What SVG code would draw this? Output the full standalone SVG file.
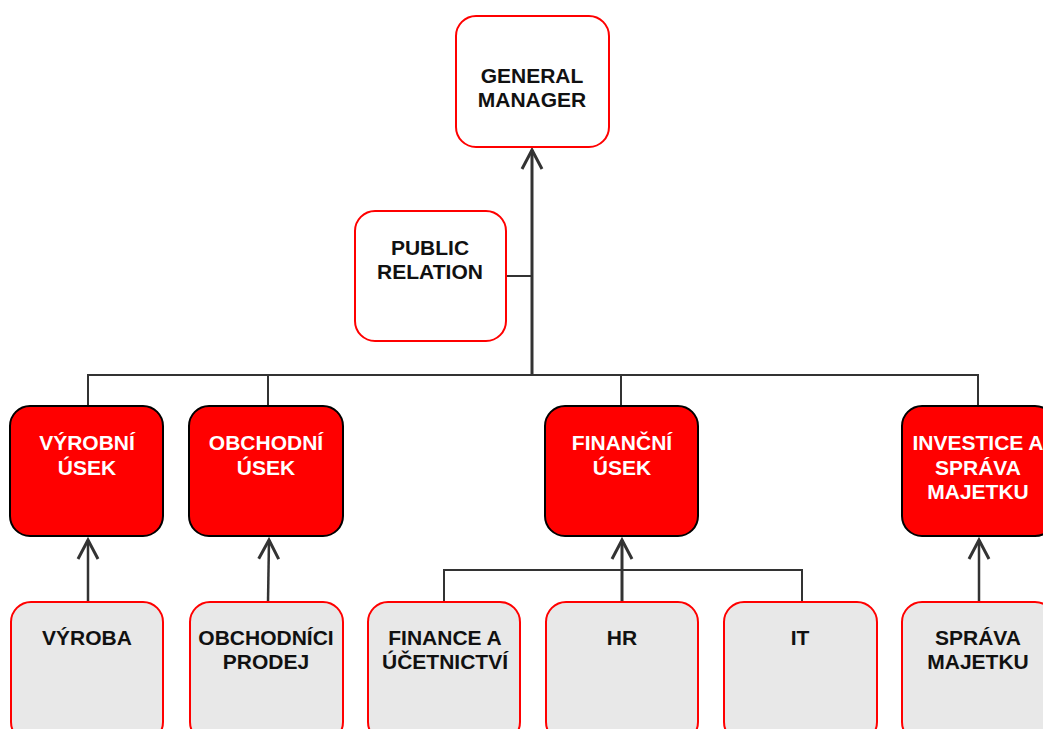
<svg xmlns="http://www.w3.org/2000/svg" width="1043" height="729" viewBox="0 0 1043 729">
<style>
.top{fill:#ffffff;stroke:#ff0000;stroke-width:2}
.dept{fill:#ff0000;stroke:#000000;stroke-width:2}
.sub{fill:#e8e8e8;stroke:#ff0000;stroke-width:2}
text{font-family:"Liberation Sans",Arial,sans-serif;font-weight:bold;font-size:21px;text-anchor:middle}
.dk{fill:#111111}
.wt{fill:#ffffff}
.ln{fill:none;stroke:#333333;stroke-width:2}
.ar{fill:none;stroke:#333333;stroke-width:2.5}
.thick{fill:none;stroke:#333333;stroke-width:3}
</style>
<defs>
<marker id="open" markerUnits="userSpaceOnUse" markerWidth="40" markerHeight="40" refX="0" refY="0" orient="auto" overflow="visible">
<path d="M -19 -10 L 0 0 L -19 10" fill="none" stroke="#333333" stroke-width="3"/>
</marker>
</defs>
<rect width="1043" height="729" fill="#ffffff"/>
<g id="connectors">
<path class="thick" d="M 532 376 L 532 150" marker-end="url(#open)"/>
<path class="ln" d="M 506 276 L 532 276"/>
<path class="ln" d="M 88 406 L 88 375 L 978 375 L 978 406"/>
<path class="ln" d="M 268 375 L 268 406"/>
<path class="ln" d="M 621 375 L 621 406"/>
<path class="ar" d="M 88 602 L 88 540" marker-end="url(#open)"/>
<path class="ar" d="M 268 602 L 269 540" marker-end="url(#open)"/>
<path class="ln" d="M 444 602 L 444 570 L 802 570 L 802 602"/>
<path class="thick" d="M 622 602 L 622 540" marker-end="url(#open)"/>
<path class="ar" d="M 979 602 L 979 540" marker-end="url(#open)"/>
</g>
<g id="general-manager">
<rect class="top" x="456" y="16" width="153" height="131" rx="20"/>
<text class="dk" x="532" y="83">GENERAL</text>
<text class="dk" x="532" y="107">MANAGER</text>
</g>
<g id="public-relation">
<rect class="top" x="355" y="211" width="151" height="130" rx="20"/>
<text class="dk" x="430" y="255">PUBLIC</text>
<text class="dk" x="430" y="279">RELATION</text>
</g>
<g id="vyrobni-usek">
<rect class="dept" x="10" y="406" width="153" height="130" rx="20"/>
<text class="wt" x="87" y="450">VÝROBNÍ</text>
<text class="wt" x="87" y="475">ÚSEK</text>
</g>
<g id="obchodni-usek">
<rect class="dept" x="189" y="406" width="154" height="130" rx="20"/>
<text class="wt" x="266" y="450">OBCHODNÍ</text>
<text class="wt" x="266" y="475">ÚSEK</text>
</g>
<g id="financni-usek">
<rect class="dept" x="545" y="406" width="153" height="130" rx="20"/>
<text class="wt" x="622" y="450">FINANČNÍ</text>
<text class="wt" x="622" y="475">ÚSEK</text>
</g>
<g id="investice">
<rect class="dept" x="902" y="406" width="153" height="130" rx="20"/>
<text class="wt" x="978" y="450">INVESTICE A</text>
<text class="wt" x="978" y="475">SPRÁVA</text>
<text class="wt" x="978" y="499">MAJETKU</text>
</g>
<g id="vyroba">
<rect class="sub" x="11" y="602" width="152" height="140" rx="20"/>
<text class="dk" x="87" y="645">VÝROBA</text>
</g>
<g id="obchodnici">
<rect class="sub" x="190" y="602" width="153" height="140" rx="20"/>
<text class="dk" x="266" y="645">OBCHODNÍCI</text>
<text class="dk" x="266" y="669">PRODEJ</text>
</g>
<g id="finance-ucetnictvi">
<rect class="sub" x="368" y="602" width="152" height="140" rx="20"/>
<text class="dk" x="445" y="645">FINANCE A</text>
<text class="dk" x="445" y="669">ÚČETNICTVÍ</text>
</g>
<g id="hr">
<rect class="sub" x="546" y="602" width="152" height="140" rx="20"/>
<text class="dk" x="622" y="645">HR</text>
</g>
<g id="it">
<rect class="sub" x="724" y="602" width="153" height="140" rx="20"/>
<text class="dk" x="800" y="645">IT</text>
</g>
<g id="sprava-majetku">
<rect class="sub" x="902" y="602" width="153" height="140" rx="20"/>
<text class="dk" x="978" y="645">SPRÁVA</text>
<text class="dk" x="978" y="669">MAJETKU</text>
</g>
</svg>
